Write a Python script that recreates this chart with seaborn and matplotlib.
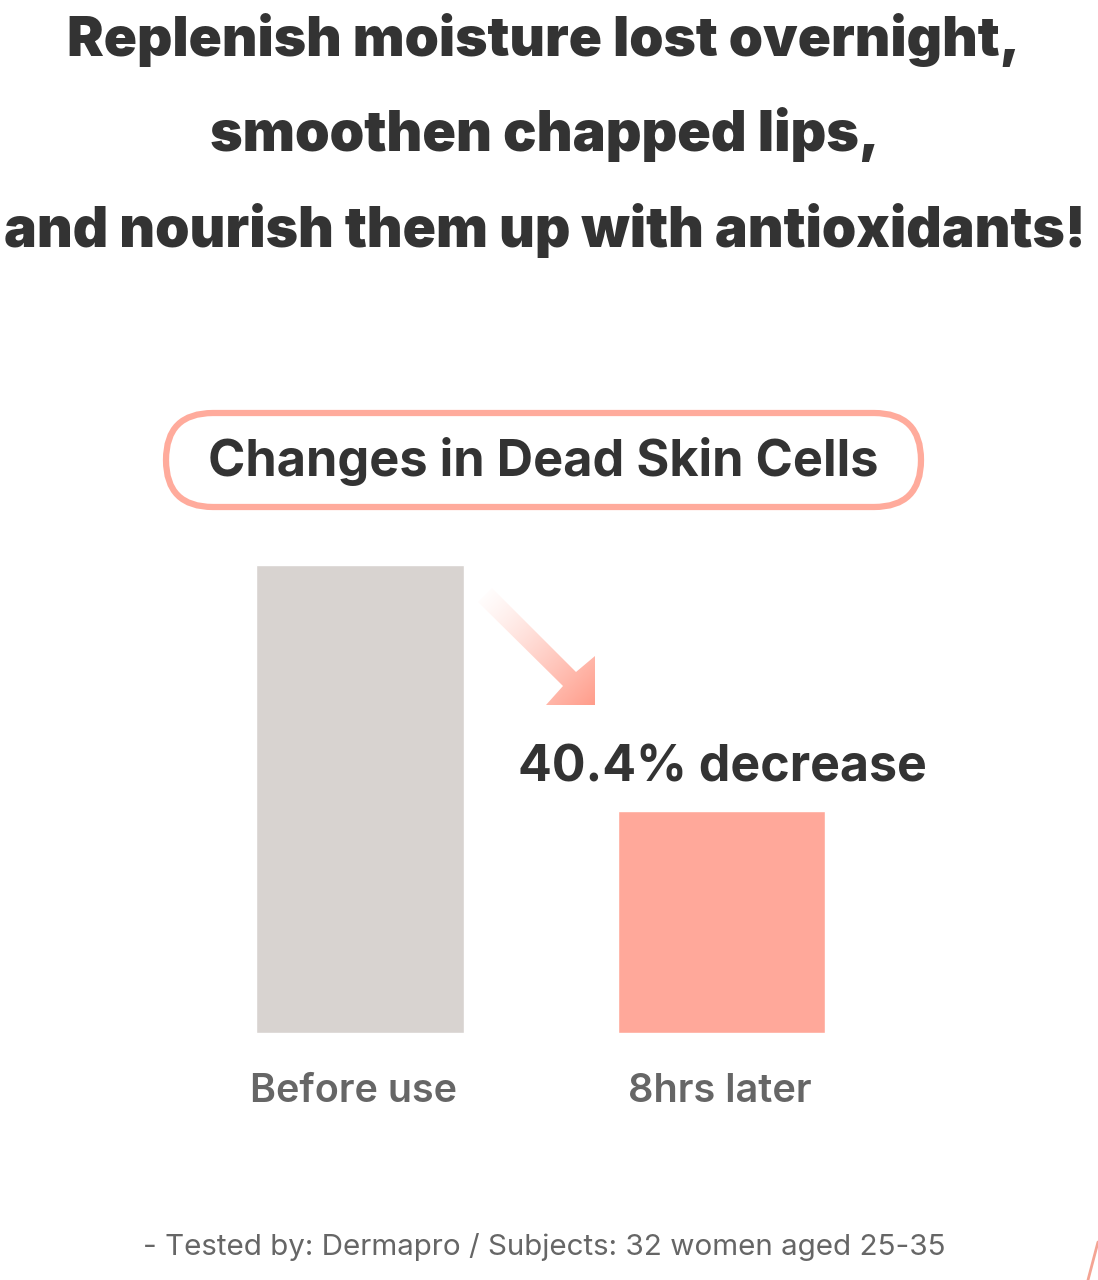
import numpy as np
import matplotlib
matplotlib.use("Agg")
import matplotlib.pyplot as plt
from matplotlib.patches import FancyBboxPatch, Polygon
import seaborn as sns

# data
headline = ["Replenish moisture lost overnight,",
            "smoothen chapped lips,",
            "and nourish them up with antioxidants!"]
chart_title = "Changes in Dead Skin Cells"
stages = ["Before use", "8hrs later"]
dead_cells = [100, 47.4]
change_label = "40.4% decrease"
footnote = "- Tested by: Dermapro / Subjects: 32 women aged 25-35"

bar_colors = ["#d8d3d0", "#ffa89a"]
dark = "#333333"
grey = "#666666"
pink = "#ffab9c"

sns.set_theme(style="white")
plt.rcParams['font.family'] = ['Inter', 'DejaVu Sans']

W, H = 1098, 1280
fig = plt.figure(figsize=(W / 100, H / 100), dpi=100)

# overlay in pixel coordinates for the decorations
ov = fig.add_axes([0, 0, 1, 1])
ov.set_xlim(0, W)
ov.set_ylim(H, 0)
ov.axis("off")

renderer = fig.canvas.get_renderer()


def fit_text(x, y, s, width, **kw):
    # put text centred at (x, y) and scale font so it spans `width` px
    t = ov.text(x, y, s, ha="center", va="center", fontsize=40, **kw)
    w = t.get_window_extent(renderer).width
    t.set_fontsize(40 * width / w)
    return t


# headline
fit_text(544, 40, headline[0], 952, color=dark, fontweight="black")
fit_text(545, 135, headline[1], 670, color=dark, fontweight="black")
fit_text(545, 230, headline[2], 1080, color=dark, fontweight="black")

# pill title
pill = FancyBboxPatch((166, 413), 755, 94,
                      boxstyle="round,pad=0,rounding_size=47",
                      fc="white", ec=pink, lw=4.5)
ov.add_patch(pill)
fit_text(543, 462, chart_title, 671, color=dark, fontweight="bold")

# bar chart
ax = fig.add_axes([179.25 / W, (H - 1033) / H, 723 / W, 468 / H])
sns.barplot(x=stages, y=dead_cells, hue=stages, palette=bar_colors,
            width=0.575, legend=False, ax=ax, saturation=1)
ax.set_xlim(-0.5, 1.5)
ax.set_ylim(0, max(dead_cells))
ax.set_yticks([])
ax.set_xticks([])
sns.despine(ax=ax, left=True, bottom=True)
ax.patch.set_alpha(0)

fit_text(353, 1092, stages[0], 207, color=grey, fontweight="semibold")
fit_text(720, 1092, stages[1], 184, color=grey, fontweight="semibold")

fit_text(722, 768, change_label, 409, color=dark, fontweight="bold")

# gradient arrow
arrow = Polygon([(478, 602), (492, 588), (576, 672), (595, 656),
                 (595, 705), (546, 705), (563, 686)],
                closed=True, fc="none", ec="none")
ov.add_patch(arrow)
grad = np.zeros((100, 100, 4))
grad[..., :3] = matplotlib.colors.to_rgb("#ff9c8a")
u = np.linspace(0, 1, 100)
grad[..., 3] = np.clip((u[None, :] + u[:, None]) / 2, 0, 1) ** 1.3
img = ov.imshow(grad, extent=(478, 595, 705, 588), zorder=3)
img.set_clip_path(arrow)
ov.set_xlim(0, W)
ov.set_ylim(H, 0)
ov.set_aspect("auto")

# footnote
fit_text(544, 1247, footnote, 803, color=grey, fontweight="normal")

# stray pink stroke at bottom right edge
ov.plot([1088, 1098], [1280, 1242], color="#f4a494", lw=2)

fig.savefig("out.png", dpi=100, facecolor="white")
